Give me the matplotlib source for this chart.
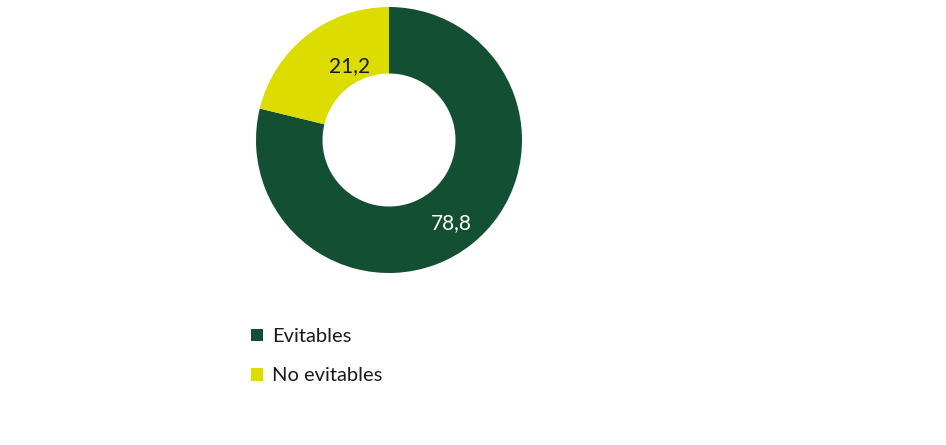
import matplotlib
matplotlib.use('Agg')
import matplotlib.pyplot as plt
import numpy as np

plt.rcParams['font.family'] = ['Lato', 'DejaVu Sans']

# values (percent)
categories = ['Evitables', 'No evitables']
values = [78.8, 21.2]
value_labels = ['78,8', '21,2']
colors = ['#134f33', '#dcdc00']
label_colors = ['white', '#1a1a1a']


def main():
    W, H, dpi = 946, 445, 100
    fig = plt.figure(figsize=(W / dpi, H / dpi), dpi=dpi)
    ax = fig.add_axes([0, 0, 1, 1])

    wedges, _ = ax.pie(values, colors=colors, startangle=90, counterclock=False,
                       radius=1.0, wedgeprops=dict(width=0.5, linewidth=0))

    # donut centre in pixels and outer radius in pixels
    cx, cy, r = 389, 140, 133
    ax.set_xlim(-cx / r, (W - cx) / r)
    ax.set_ylim(-(H - cy) / r, cy / r)
    ax.set_aspect('equal')
    ax.axis('off')

    # data labels placed inside each ring segment
    label_r = [0.78, 0.63]
    label_shift = [-1.0, -10.0]
    for w, txt, col, rr, sh in zip(wedges, value_labels, label_colors, label_r, label_shift):
        ang = np.deg2rad((w.theta1 + w.theta2) / 2 + sh)
        ax.text(rr * np.cos(ang), rr * np.sin(ang), txt, color=col,
                fontsize=15, ha='center', va='center')

    leg = fig.legend(wedges, categories, loc='upper left',
                     bbox_to_anchor=(243 / W, 1 - 320 / H), frameon=False,
                     fontsize=14.5, handlelength=0.6, handleheight=0.6,
                     handletextpad=0.45, labelspacing=1.1, borderaxespad=0)
    for t in leg.get_texts():
        t.set_color('#1a1a1a')

    fig.savefig('out.png', dpi=dpi)


if __name__ == '__main__':
    main()
